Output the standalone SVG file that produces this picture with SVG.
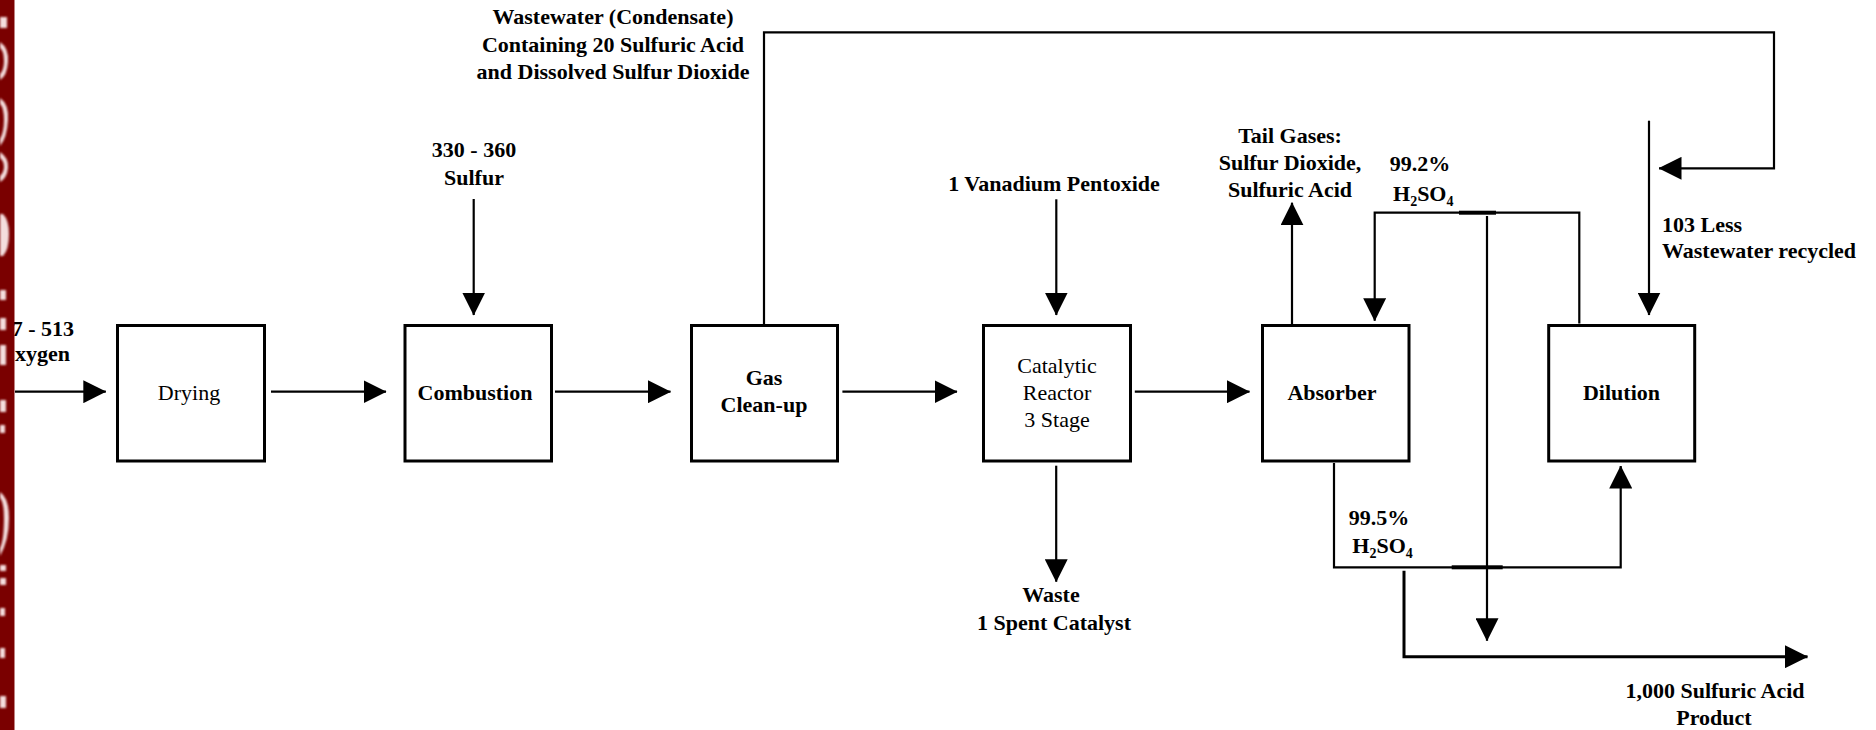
<svg xmlns="http://www.w3.org/2000/svg" width="1876" height="730" viewBox="0 0 1876 730">
  <style>
    .box { fill: #ffffff; stroke: #000000; stroke-width: 3; }
    .lbl { font-family: "Liberation Serif", "Times New Roman", serif; font-size: 22px; fill: #000000; }
    .b { font-weight: bold; }
    .mid { text-anchor: middle; }
    .sub { font-size: 14px; }
    .wire { fill: none; stroke: #000000; stroke-width: 2.2; }
    .heavy { stroke-width: 3; }
  </style>
  <defs>
    <marker id="arrow" markerUnits="userSpaceOnUse" markerWidth="23" markerHeight="23" refX="22.5" refY="11.5" orient="auto" viewBox="0 0 23 23">
      <path d="M0,0 L23,11.5 L0,23 Z" fill="#000000"/>
    </marker>
    <filter id="soft" x="-50%" y="-10%" width="200%" height="120%">
      <feGaussianBlur stdDeviation="0.8"/>
    </filter>
    <clipPath id="band-clip">
      <rect x="0" y="0" width="14.7" height="730"/>
    </clipPath>
  </defs>

  <rect x="0" y="0" width="1876" height="730" fill="#ffffff"/>

  <!-- connectors -->
  <g id="connectors">
    <path class="wire" d="M15,391.7 H105.8" marker-end="url(#arrow)"/>
    <path class="wire" d="M271,391.7 H386" marker-end="url(#arrow)"/>
    <path class="wire" d="M555,391.7 H670.5" marker-end="url(#arrow)"/>
    <path class="wire" d="M842.4,391.7 H957" marker-end="url(#arrow)"/>
    <path class="wire" d="M1134.8,391.7 H1249.5" marker-end="url(#arrow)"/>
    <path class="wire" d="M473.7,199 V315" marker-end="url(#arrow)"/>
    <path class="wire" d="M1056.3,199.3 V315" marker-end="url(#arrow)"/>
    <path class="wire" d="M1292,325 V202.7" marker-end="url(#arrow)"/>
    <path class="wire" d="M1056.2,465.7 V581.7" marker-end="url(#arrow)"/>
    <!-- condensate recycle loop -->
    <path class="wire" d="M764,325.5 V32.3 H1774 V168.3 H1659" marker-end="url(#arrow)"/>
    <path class="wire" d="M1649,120.7 V315" marker-end="url(#arrow)"/>
    <!-- 99.2% acid back to absorber -->
    <path class="wire" d="M1579.3,323.5 V212.7 H1374.7 V320.7" marker-end="url(#arrow)"/>
    <path class="wire" d="M1487,216 V640.7" marker-end="url(#arrow)"/>
    <!-- 99.5% acid to dilution -->
    <path class="wire" d="M1334,463 V567.3 H1620.7 V466" marker-end="url(#arrow)"/>
    <!-- product -->
    <path class="wire heavy" d="M1404,570.7 V656.7 H1807.5" marker-end="url(#arrow)"/>
    <!-- crossing bars -->
    <rect x="1459" y="210.7" width="37" height="4" fill="#000000"/>
    <rect x="1451.7" y="565.3" width="51" height="4" fill="#000000"/>
  </g>

  <!-- process units -->
  <g id="drying">
    <rect class="box" x="117.5" y="325.5" width="147" height="135.5"/>
    <text class="lbl mid" x="189" y="400">Drying</text>
  </g>
  <g id="combustion">
    <rect class="box" x="405" y="325.5" width="146.5" height="135.5"/>
    <text class="lbl b mid" x="475" y="400">Combustion</text>
  </g>
  <g id="gas-cleanup">
    <rect class="box" x="691.5" y="325.5" width="146" height="135.5"/>
    <text class="lbl b mid" x="764" y="385">Gas</text>
    <text class="lbl b mid" x="764" y="411.7">Clean-up</text>
  </g>
  <g id="catalytic-reactor">
    <rect class="box" x="983.5" y="325.5" width="147" height="135.5"/>
    <text class="lbl mid" x="1057" y="373">Catalytic</text>
    <text class="lbl mid" x="1057" y="400">Reactor</text>
    <text class="lbl mid" x="1057" y="426.7">3 Stage</text>
  </g>
  <g id="absorber">
    <rect class="box" x="1262.5" y="325.5" width="146.5" height="135.5"/>
    <text class="lbl b mid" x="1332" y="400">Absorber</text>
  </g>
  <g id="dilution">
    <rect class="box" x="1548.7" y="325.5" width="146" height="135.5"/>
    <text class="lbl b mid" x="1621.5" y="400">Dilution</text>
  </g>

  <!-- stream labels -->
  <g id="labels">
    <text class="lbl b" x="74" y="336" text-anchor="end">7 - 513</text>
    <text class="lbl b" x="70" y="361" text-anchor="end">xygen</text>

    <text class="lbl b mid" x="613" y="24">Wastewater (Condensate)</text>
    <text class="lbl b mid" x="613" y="51.5">Containing 20 Sulfuric Acid</text>
    <text class="lbl b mid" x="613" y="79">and Dissolved Sulfur Dioxide</text>

    <text class="lbl b mid" x="474" y="156.7">330 - 360</text>
    <text class="lbl b mid" x="474" y="184.5">Sulfur</text>

    <text class="lbl b mid" x="1054" y="190.5">1 Vanadium Pentoxide</text>

    <text class="lbl b mid" x="1290" y="143.3">Tail Gases:</text>
    <text class="lbl b mid" x="1290" y="170">Sulfur Dioxide,</text>
    <text class="lbl b mid" x="1290" y="196.7">Sulfuric Acid</text>

    <text class="lbl b mid" x="1420" y="171">99.2%</text>
    <text class="lbl b" x="1393" y="200.5">H<tspan class="sub" dy="5">2</tspan><tspan dy="-5">SO</tspan><tspan class="sub" dy="5">4</tspan></text>

    <text class="lbl b" x="1662" y="232">103 Less</text>
    <text class="lbl b" x="1662" y="258">Wastewater recycled</text>

    <text class="lbl b mid" x="1379" y="525">99.5%</text>
    <text class="lbl b" x="1352.3" y="552.7">H<tspan class="sub" dy="5">2</tspan><tspan dy="-5">SO</tspan><tspan class="sub" dy="5">4</tspan></text>

    <text class="lbl b mid" x="1051" y="602.3">Waste</text>
    <text class="lbl b mid" x="1054" y="630">1 Spent Catalyst</text>

    <text class="lbl b mid" x="1715" y="698.3">1,000 Sulfuric Acid</text>
    <text class="lbl b mid" x="1714" y="725">Product</text>
  </g>

  <!-- dark red edge band with pale lettering fragments -->
  <g id="edge-band" clip-path="url(#band-clip)">
    <rect x="0" y="0" width="14.7" height="730" fill="#7a0000"/>
    <g fill="#fbeaea" opacity="0.95" filter="url(#soft)">
      <rect x="0" y="17" width="7" height="11"/>
      <path d="M0,42 Q9,48 8,62 Q7,76 0,80 V74 Q4,70 4,61 Q4,51 0,48 Z"/>
      <path d="M0,98 Q9,104 8,120 Q7,138 0,146 V139 Q4,132 4,120 Q4,108 0,104 Z"/>
      <path d="M0,152 Q9,158 8,168 Q7,178 0,182 V176 Q4,172 4,167 Q4,161 0,158 Z"/>
      <path d="M0,214 H3 Q9,220 9,234 Q9,250 3,256 H0 Z"/>
      <rect x="0" y="290" width="6" height="10"/>
      <rect x="0" y="318" width="6" height="12"/>
      <rect x="0" y="345" width="6" height="20"/>
      <rect x="0" y="400" width="6" height="12"/>
      <rect x="0" y="425" width="5" height="8"/>
      <path d="M0,492 Q9,498 9,518 Q9,540 0,556 V548 Q4,540 4,518 Q4,502 0,498 Z"/>
      <rect x="0" y="565" width="6" height="6"/>
      <rect x="0" y="578" width="6" height="7"/>
      <rect x="0" y="608" width="5" height="8"/>
      <rect x="0" y="648" width="5" height="10"/>
      <rect x="0" y="696" width="6" height="12"/>
    </g>
  </g>
</svg>
